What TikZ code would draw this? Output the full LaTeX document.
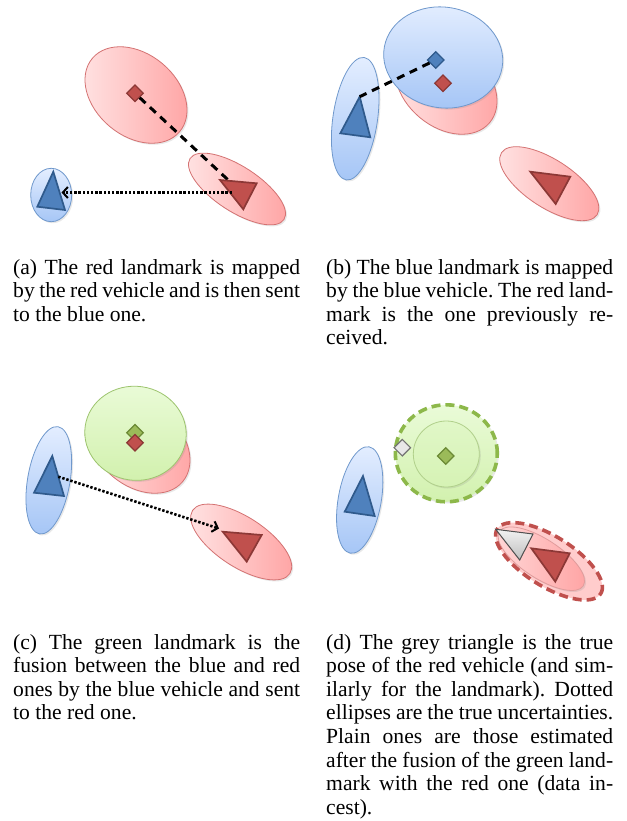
\documentclass[tikz,border=0pt]{standalone}
\usepackage{fontspec}
\setmainfont{Liberation Serif}
\usetikzlibrary{shadows,arrows.meta,shapes.geometric}
\definecolor{redfill}{HTML}{C0504D}
\definecolor{rededge}{HTML}{8C3836}
\definecolor{bluefill}{HTML}{4F81BD}
\definecolor{blueedge}{HTML}{2F5A8C}
\definecolor{greenfill}{HTML}{9BBB59}
\definecolor{greenedge}{HTML}{6B8A35}
\definecolor{redlight}{HTML}{FFE4E4}
\definecolor{reddark}{HTML}{FFA3A3}
\definecolor{redline}{HTML}{D47272}
\definecolor{bluelight}{HTML}{E4EEFF}
\definecolor{bluedark}{HTML}{A6C6F6}
\definecolor{blueline}{HTML}{6F98CC}
\definecolor{greenlight}{HTML}{EAFBD8}
\definecolor{greendark}{HTML}{D2F1AE}
\definecolor{greenline}{HTML}{9DC46E}
\definecolor{greendash}{HTML}{8DB84A}
\definecolor{greylight}{HTML}{F2F2F2}
\definecolor{greydark}{HTML}{BEBEBE}
\definecolor{greyedge}{HTML}{505050}
\newcommand\jl[1]{\makebox[287pt][s]{#1}}
\frenchspacing
\begin{document}
\begin{tikzpicture}[x=1pt,y=-1pt,
  shad/.style={drop shadow={opacity=0.18,shadow xshift=1.5pt,shadow yshift=-1.5pt}},
  redell/.style={draw=redline, line width=0.8pt, left color=redlight, right color=reddark, shad},
  blueell/.style={draw=blueline, line width=0.8pt, top color=bluelight, bottom color=bluedark, shad},
  greenell/.style={draw=greenline, line width=0.8pt, top color=greenlight, bottom color=greendark, shad},
  redtri/.style={fill=redfill, draw=rededge, line width=1.7pt, line join=miter},
  bluetri/.style={fill=bluefill, draw=blueedge, line width=1.7pt, line join=miter},
  greytri/.style={top color=greylight, bottom color=greydark, draw=greyedge, line width=1pt, line join=miter},
  dia/.style={diamond, inner sep=0pt, minimum size=17pt, line width=1.2pt},
  reddia/.style={dia, fill=redfill, draw=rededge},
  bluedia/.style={dia, fill=bluefill, draw=blueedge},
  greendia/.style={dia, fill=greenfill, draw=greenedge},
  greydia/.style={dia, fill=greylight!80!greydark, draw=greyedge!80},
  dashline/.style={line width=3pt, dash pattern=on 8pt off 6pt},
  dotarrow/.style={line width=2.6pt, dash pattern=on 2.4pt off 1.8pt, -{Straight Barb[length=5pt,width=11pt,line width=2pt]}},
  captext/.style={anchor=base west, inner sep=0pt, font=\fontsize{21.6}{23.6}\selectfont}]
\useasboundingbox (0,0) rectangle (626,821);
\fill[white] (0,0) rectangle (626,821);

% ---------------- panel (a)
\path[redell, shift={(136,95)}, rotate=-40] (0,0) ellipse [x radius=57pt, y radius=41pt];
\path[redell, shift={(237,189)}, rotate=-33] (0,0) ellipse [x radius=56pt, y radius=22.5pt];
\path[blueell, shift={(51.2,195)}] (0,0) ellipse [x radius=20.5pt, y radius=26.7pt];
\node[reddia] (a-lm) at (135,93.3) {};
\coordinate (a-veh) at (240,191);
\draw[dashline] (a-lm) -- (a-veh);
\filldraw[bluetri] (53.3,171.7) -- (37.3,206.7) -- (65,210) -- cycle;
\filldraw[redtri] (220,180) -- (256.7,183.3) -- (243.3,209.3) -- cycle;
\coordinate (a-from) at (232,192.5);
\coordinate (a-to) at (61.5,192.5);
\draw[dotarrow] (a-from) -- (a-to);

% ---------------- panel (b)
\path[redell, shift={(446,86)}, rotate=-40] (0,0) ellipse [x radius=57pt, y radius=41pt];
\path[blueell, shift={(443.2,57.5)}, rotate=-10] (0,0) ellipse [x radius=59.8pt, y radius=50.3pt];
\path[blueell, shift={(355.2,118.7)}, rotate=-8.3] (0,0) ellipse [x radius=22.3pt, y radius=61.9pt];
\path[redell, shift={(549.3,183.7)}, rotate=-33] (0,0) ellipse [x radius=57pt, y radius=24pt];
\filldraw[bluetri] (359.7,96.7) -- (340.3,133.3) -- (370.3,137.3) -- cycle;
\filldraw[redtri] (530.3,171.7) -- (570.3,176.7) -- (555.7,204) -- cycle;
\node[bluedia] (b-blm) at (435.7,60) {};
\node[reddia] (b-rlm) at (443,83.3) {};
\coordinate (b-veh) at (359.7,96.7);
\draw[dashline] (b-blm) -- (b-veh);

% ---------------- panel (c)
\path[redell, shift={(139,445)}, rotate=-40] (0,0) ellipse [x radius=57pt, y radius=41pt];
\path[greenell, shift={(135.5,433.3)}, rotate=-8] (0,0) ellipse [x radius=50.8pt, y radius=47pt];
\node[greendia] (c-glm) at (135,432.7) {};
\node[reddia] (c-rlm) at (135,442.7) {};
\path[blueell, shift={(48.8,480.3)}, rotate=-9.8] (0,0) ellipse [x radius=21.2pt, y radius=54.4pt];
\path[redell, shift={(241.2,542)}, rotate=-33] (0,0) ellipse [x radius=58pt, y radius=25pt];
\filldraw[bluetri] (52.3,456) -- (34,492.7) -- (64,496) -- cycle;
\filldraw[redtri] (222.7,531.7) -- (261.7,535) -- (246.7,561.7) -- cycle;
\coordinate (c-from) at (58.3,476.7);
\coordinate (c-to) at (219,528.5);
\draw[dotarrow] (c-from) -- (c-to);

% ---------------- panel (d)
\path[top color=greenlight, bottom color=greendark, shad] (446.3,453.3) ellipse [x radius=51pt, y radius=48.5pt];
\draw[greendash, line width=3.6pt, dash pattern=on 9pt off 5pt] (446.3,453.3) ellipse [x radius=51pt, y radius=48.5pt];
\path[draw=greenline!80, line width=0.8pt, top color=greenlight!60!greendark, bottom color=greendark!85!greenlight, shad] (446.3,454) circle [radius=33pt];
\node[greendia] (d-glm) at (445.7,456) {};
\node[greydia] (d-true) at (402.3,447.7) {};
\path[blueell, shift={(359.7,500)}, rotate=-10] (0,0) ellipse [x radius=21.5pt, y radius=54pt];
\filldraw[bluetri] (363,476) -- (344.7,511.7) -- (374.7,516) -- cycle;
\path[fill=reddark!55!white, shift={(549,561.3)}, rotate=-32] (0,0) ellipse [x radius=61pt, y radius=25pt];
\path[draw=redline!70, line width=0.8pt, left color=redlight!80!reddark, right color=reddark, shad, shift={(541.3,558.7)}, rotate=-33] (0,0) ellipse [x radius=50pt, y radius=19.5pt];
\draw[redfill, line width=3.6pt, dash pattern=on 9pt off 5pt, shift={(549,561.3)}, rotate=-32] (0,0) ellipse [x radius=61pt, y radius=25pt];
\filldraw[greytri] (495.7,529.3) -- (533,534) -- (519.7,560) -- cycle;
\filldraw[redtri] (531.3,548.3) -- (569.7,553.3) -- (555.3,581.7) -- cycle;

% ---------------- captions
\node[captext] (ca1) at (13,274) {\jl{(a) The red landmark is mapped}};
\node[captext] (ca2) at (13,297.6) {\jl{by the red vehicle and is then sent}};
\node[captext] (ca3) at (13,321.2) {to the blue one.};
\node[captext] (cb1) at (326,274) {\jl{(b) The blue landmark is mapped}};
\node[captext] (cb2) at (326,297.6) {\jl{by the blue vehicle. The red land-}};
\node[captext] (cb3) at (326,321.2) {\jl{mark is the one previously re-}};
\node[captext] (cb4) at (326,344.8) {ceived.};
\node[captext] (cc1) at (13,649) {\jl{(c) The green landmark is the}};
\node[captext] (cc2) at (13,672.6) {\jl{fusion between the blue and red}};
\node[captext] (cc3) at (13,696.2) {\jl{ones by the blue vehicle and sent}};
\node[captext] (cc4) at (13,719.8) {to the red one.};
\node[captext] (cd1) at (326,649) {\jl{(d) The grey triangle is the true}};
\node[captext] (cd2) at (326,672.6) {\jl{pose of the red vehicle (and sim-}};
\node[captext] (cd3) at (326,696.2) {\jl{ilarly for the landmark). Dotted}};
\node[captext] (cd4) at (326,719.8) {\jl{ellipses are the true uncertainties.}};
\node[captext] (cd5) at (326,743.4) {\jl{Plain ones are those estimated}};
\node[captext] (cd6) at (326,767) {\jl{after the fusion of the green land-}};
\node[captext] (cd7) at (326,790.6) {\jl{mark with the red one (data in-}};
\node[captext] (cd8) at (326,814.2) {cest).};
\end{tikzpicture}
\end{document}
